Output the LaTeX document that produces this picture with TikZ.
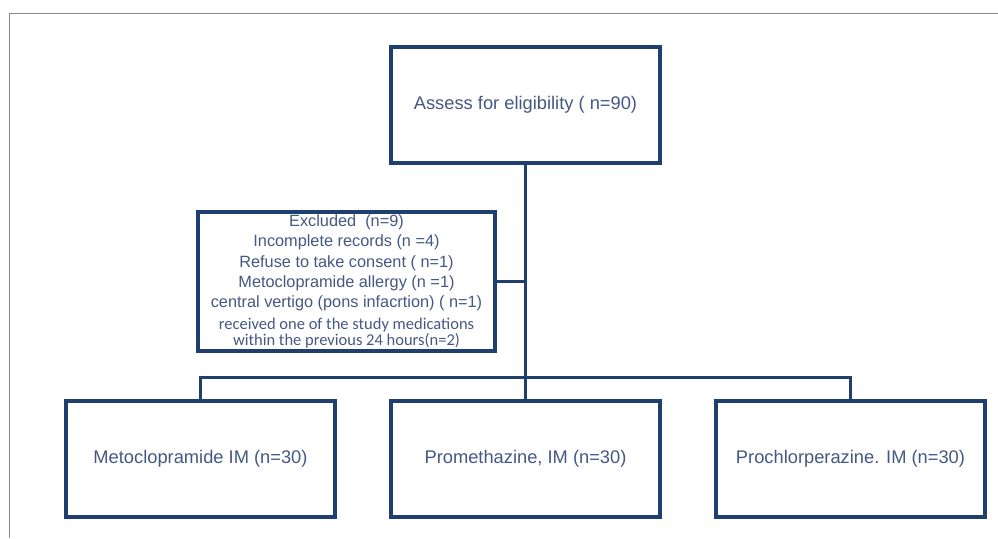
\documentclass[tikz,border=0pt]{standalone}
\usepackage{fontspec}
\setmainfont{Liberation Sans}
\newfontfamily\notefont{Carlito}
\usepackage{xcolor}
\usetikzlibrary{positioning}
\definecolor{boxline}{RGB}{31,63,110}
\definecolor{boxtext}{RGB}{68,88,132}
\definecolor{frameline}{RGB}{136,136,136}
\newcommand{\smallnote}[1]{{\notefont\fontsize{16.5}{16.5}\selectfont #1}}

\begin{document}
\begin{tikzpicture}[
    x=1pt, y=-1pt,
    box/.style={draw=boxline, line width=4pt, text=boxtext, align=center, inner sep=0pt,
      minimum width=269pt, minimum height=116pt, font=\fontsize{18.3}{21}\selectfont},
    exbox/.style={box, line width=3.5pt, minimum width=297pt, minimum height=139pt,
      font=\fontsize{16.3}{20.3}\selectfont},
    link/.style={draw=boxline, line width=3.5pt},
  ]
    \useasboundingbox (0,0) rectangle (998,538);
    \draw[frameline, line width=1pt] (9,538) -- (9,13) -- (998,13);

    % ---------- screening ----------
    \node[box] (assess) at (525.5,105) {Assess for eligibility ( n=90)};
    \node[exbox] (excl) at (346.5,281.5)
      {Excluded~ (n=9)\\
       Incomplete records (n =4)\\
       Refuse to take consent ( n=1)\\
       Metoclopramide allergy (n =1)\\
       central vertigo (pons infacrtion) ( n=1)\\[1pt]
       \smallnote{received one of the study medications}\\[-4pt]
       \smallnote{within the previous 24 hours(n=2)}};

    % ---------- arms ----------
    \node[box] (metoc)   at (200.5,459) {Metoclopramide IM (n=30)};
    \node[box] (prometh) at (525.5,459) {Promethazine, IM (n=30)};
    \node[box] (prochl)  at (850.5,459) {Prochlorperazine. IM (n=30)};

    \coordinate (bus) at (525.5,377);
    \draw[link] (assess.south) -- (prometh.north);
    \draw[link] (excl.east) -- (excl.east -| assess.south);
    \draw[link, line width=3pt] (metoc.north) |- (bus) -| (prochl.north);
  \end{tikzpicture}
\end{document}
